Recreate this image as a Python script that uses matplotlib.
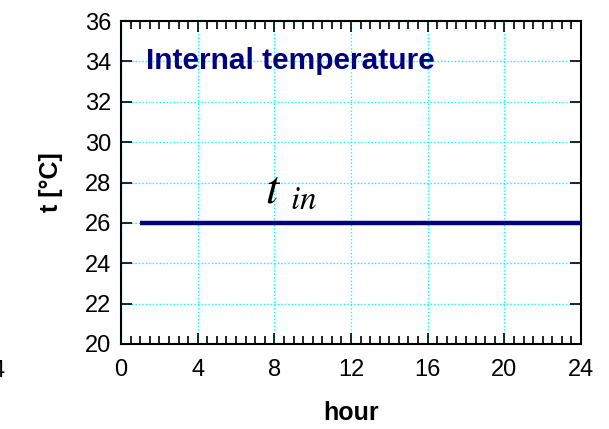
import numpy as np
import matplotlib.pyplot as plt
from matplotlib.ticker import MultipleLocator

plt.rcParams['font.family'] = ['Liberation Sans', 'DejaVu Sans']
plt.rcParams['mathtext.fontset'] = 'stix'

# indoor set-point over the day
hours = [1, 24]
t_in = [26, 26]

x_ticks = [0, 4, 8, 12, 16, 20, 24]
y_ticks = [20, 22, 24, 26, 28, 30, 32, 34, 36]

navy = '#00007f'

fig = plt.figure(figsize=(6.09, 4.29), dpi=100)
ax = fig.add_axes([121 / 609, 1 - 344 / 429, 460 / 609, 323 / 429])

ax.plot(hours, t_in, color=navy, lw=3.2, solid_capstyle='butt', zorder=3)

ax.set_xlim(0, 24)
ax.set_ylim(20, 36)
ax.set_xticks(x_ticks)
ax.set_yticks(y_ticks)
ax.xaxis.set_minor_locator(MultipleLocator(0.5))

ax.grid(True, which='major', color='cyan', ls=(0, (1, 1.5)), lw=1.0)
ax.tick_params(which='both', direction='in', top=True, right=True,
               labelsize=17, width=1.2)
ax.tick_params(axis='y', pad=7)
ax.tick_params(axis='x', pad=11)
ax.tick_params(which='major', length=8)
ax.tick_params(which='minor', length=6)
for s in ax.spines.values():
    s.set_linewidth(1.5)

ax.set_xlabel('hour', fontsize=18, fontweight='bold', labelpad=14)
ax.set_ylabel('t [°C]', fontsize=18, fontweight='bold', labelpad=16)

ax.text(1.3, 34, 'Internal temperature', color=navy, fontsize=21.5,
        fontweight='bold', va='center', ha='left')
ax.text(7.5, 27.6, r'$t\ _{in}$', fontsize=34, va='center', ha='left')

# clipped tick label from a neighbouring panel
fig.text(-0.014, 1 - 371 / 429, '4', fontsize=17, va='center', ha='left')

fig.savefig('out.png', dpi=100)
